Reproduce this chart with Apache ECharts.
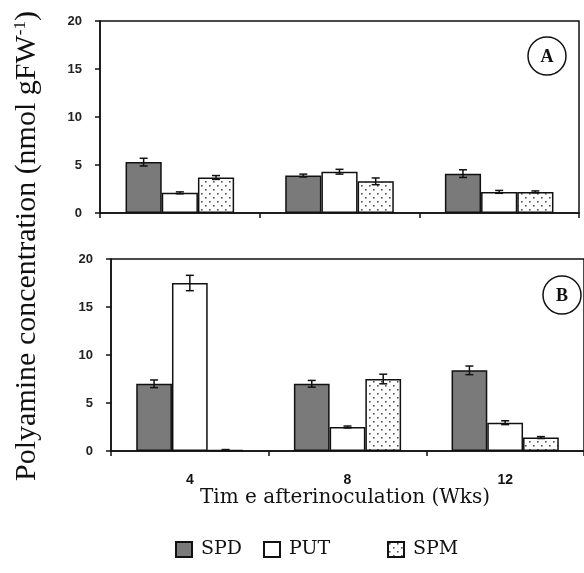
<!DOCTYPE html>
<html><head><meta charset="utf-8">
<script src="https://cdn.jsdelivr.net/npm/echarts@6/dist/echarts.min.js"></script>
<style>html,body{margin:0;padding:0;background:#fff}#c{width:584px;height:573px}</style>
</head><body><div id="c"></div>
<script>
const categories = ['4', '8', '12'];
const yTicks = [0, 5, 10, 15, 20];
const seriesNames = ['SPD', 'PUT', 'SPM'];
// Panel A
const A_SPD = [5.3, 3.9, 4.1];
const A_PUT = [2.1, 4.3, 2.2];
const A_SPM = [3.7, 3.3, 2.2];
const A_SPD_err = [0.4, 0.15, 0.4];
const A_PUT_err = [0.1, 0.25, 0.15];
const A_SPM_err = [0.2, 0.35, 0.1];
// Panel B
const B_SPD = [7.0, 7.0, 8.4];
const B_PUT = [17.5, 2.5, 2.95];
const B_SPM = [0.1, 7.5, 1.4];
const B_SPD_err = [0.4, 0.35, 0.45];
const B_PUT_err = [0.8, 0.1, 0.2];
const B_SPM_err = [0.05, 0.5, 0.1];

function dotPattern() {
  const c = document.createElement('canvas');
  c.width = 8; c.height = 8;
  const g = c.getContext('2d');
  g.fillStyle = '#fff'; g.fillRect(0, 0, 8, 8);
  g.fillStyle = '#555';
  g.fillRect(1, 1, 1.6, 1.6);
  g.fillRect(5, 5, 1.6, 1.6);
  return c;
}
const pat = { image: dotPattern(), repeat: 'repeat' };
const GAP = 0.32;
const barBase = { type: 'bar', barGap: '0%', barCategoryGap: '32%', itemStyle: { borderColor: '#111', borderWidth: 1.5 } };
function bar(name, data, color, axis) {
  return Object.assign({}, barBase, { name, data, xAxisIndex: axis, yAxisIndex: axis,
    itemStyle: Object.assign({}, barBase.itemStyle, { color }) });
}
function errSeries(vals, errs, axis) {
  const data = [];
  for (let s = 0; s < 3; s++) for (let i = 0; i < categories.length; i++) data.push([i, vals[s][i], errs[s][i], s]);
  return {
    type: 'custom', xAxisIndex: axis, yAxisIndex: axis, z: 5, silent: true,
    data,
    renderItem(params, api) {
      const i = api.value(0), v = api.value(1), e = api.value(2), s = api.value(3);
      const w = api.size([1, 0])[0];
      const bw = w * (1 - GAP) / 3;
      const cx = api.coord([i, v])[0] + (s - 1) * bw;
      const top = api.coord([i, v + e])[1];
      const bot = api.coord([i, Math.max(0, v - e)])[1];
      const cap = 4;
      const st = { stroke: '#111', lineWidth: 1.5 };
      return { type: 'group', children: [
        { type: 'line', shape: { x1: cx, y1: top, x2: cx, y2: bot }, style: st },
        { type: 'line', shape: { x1: cx - cap, y1: top, x2: cx + cap, y2: top }, style: st },
        { type: 'line', shape: { x1: cx - cap, y1: bot, x2: cx + cap, y2: bot }, style: st }
      ]};
    }
  };
}
function xAx(idx, showLabels) {
  return { type: 'category', gridIndex: idx, data: categories, boundaryGap: true,
    axisLine: { lineStyle: { color: '#111', width: 1.5 } },
    axisTick: { show: true, alignWithLabel: false, length: 5, lineStyle: { color: '#111', width: 1.5 } },
    axisLabel: { show: showLabels, color: '#111', fontFamily: 'Liberation Sans', fontWeight: 'bold', fontSize: 14, margin: 22 } };
}
function yAx(idx) {
  return { type: 'value', gridIndex: idx, min: yTicks[0], max: yTicks[yTicks.length - 1], interval: 5,
    axisLine: { show: true, lineStyle: { color: '#111', width: 1.5 } },
    axisTick: { show: true, length: 5, lineStyle: { color: '#111', width: 1.5 } },
    splitLine: { show: false },
    axisLabel: { color: '#222', fontFamily: 'Liberation Sans', fontWeight: 'bold', fontSize: 13, margin: 18 } };
}
function leg(name, left) {
  return { data: [name], top: 535, left, icon: 'rect', itemWidth: 16, itemHeight: 15, itemGap: 0,
    textStyle: { color: '#111', fontFamily: 'DejaVu Serif', fontSize: 19, padding: [0, 0, 0, 4] } };
}
const chart = echarts.init(document.getElementById('c'));
chart.setOption({
  animation: false,
  backgroundColor: '#fff',
  grid: [
    { left: 100, right: 5, top: 21, height: 192, show: true, borderColor: '#111', borderWidth: 1.5, backgroundColor: 'transparent' },
    { left: 111, right: -10, top: 259, height: 192, show: true, borderColor: '#111', borderWidth: 1.5, backgroundColor: 'transparent' }
  ],
  xAxis: [xAx(0, false), xAx(1, true)],
  yAxis: [yAx(0), yAx(1)],
  legend: [leg(seriesNames[0], 170), leg(seriesNames[1], 258), leg(seriesNames[2], 382)],
  series: [
    bar(seriesNames[0], A_SPD, '#7a7a7a', 0), bar(seriesNames[1], A_PUT, '#fff', 0), bar(seriesNames[2], A_SPM, pat, 0),
    bar(seriesNames[0], B_SPD, '#7a7a7a', 1), bar(seriesNames[1], B_PUT, '#fff', 1), bar(seriesNames[2], B_SPM, pat, 1),
    errSeries([A_SPD, A_PUT, A_SPM], [A_SPD_err, A_PUT_err, A_SPM_err], 0),
    errSeries([B_SPD, B_PUT, B_SPM], [B_SPD_err, B_PUT_err, B_SPM_err], 1)
  ],
  graphic: [
    { type: 'text', x: 27, y: 246, rotation: Math.PI / 2,
      style: { text: 'Polyamine concentration (nmol gFW{s|-1})', rich: { s: { fontSize: 17, verticalAlign: 'top', fontFamily: 'Liberation Serif', fill: '#111', padding: [0, 0, 12, 0] } },
        font: '30px "Liberation Serif"', fill: '#111', align: 'center', verticalAlign: 'middle' } },
    { type: 'text', x: 345, y: 498,
      style: { text: 'Tim e afterinoculation (Wks)', font: '20px "DejaVu Serif"', fill: '#111', align: 'center', verticalAlign: 'middle' } },
    { type: 'circle', shape: { cx: 547, cy: 56, r: 19 }, style: { fill: 'none', stroke: '#111', lineWidth: 1.5 } },
    { type: 'text', x: 547, y: 57, style: { text: 'A', font: 'bold 18px "Liberation Serif"', fill: '#111', align: 'center', verticalAlign: 'middle' } },
    { type: 'circle', shape: { cx: 562, cy: 295, r: 19 }, style: { fill: 'none', stroke: '#111', lineWidth: 1.5 } },
    { type: 'text', x: 562, y: 296, style: { text: 'B', font: 'bold 18px "Liberation Serif"', fill: '#111', align: 'center', verticalAlign: 'middle' } }
  ]
});
</script></body></html>
